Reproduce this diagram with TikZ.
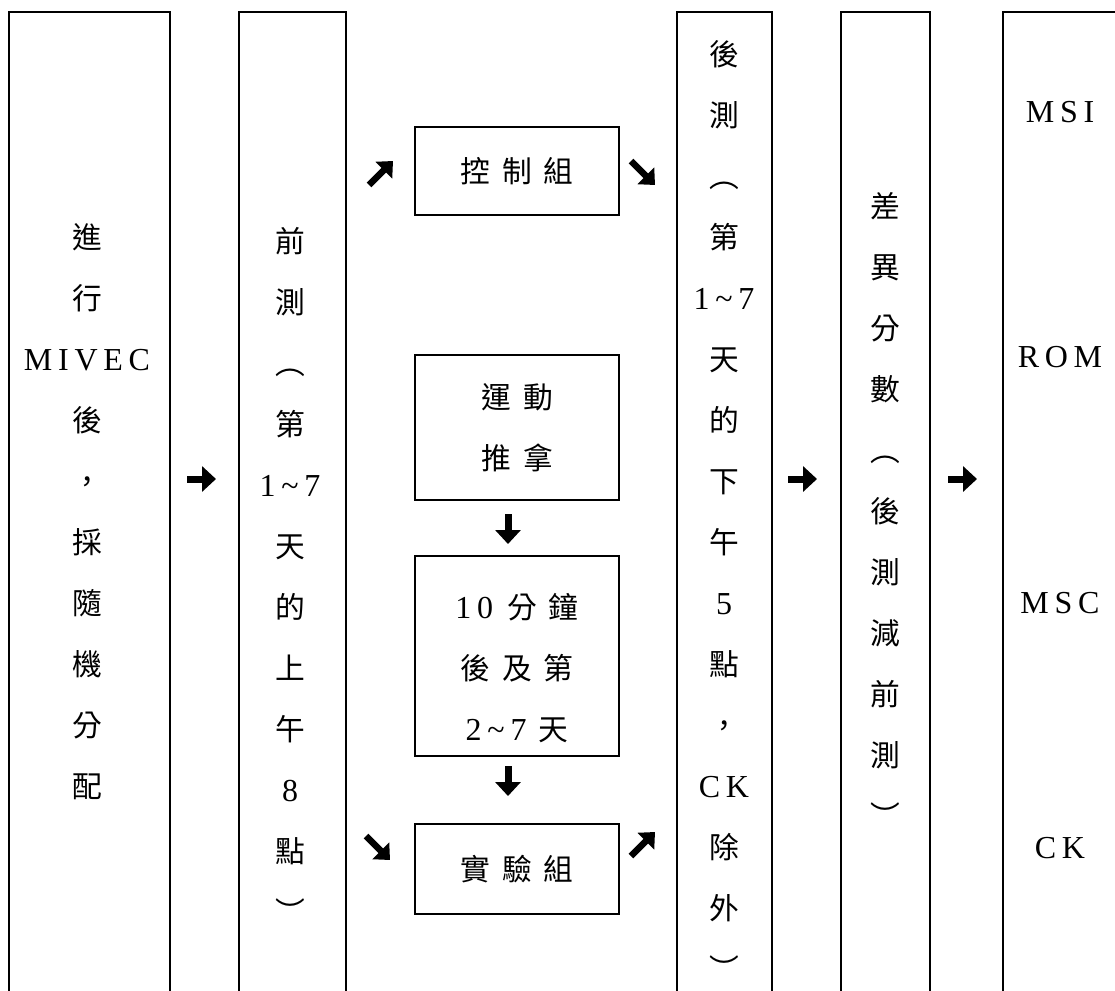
\documentclass[tikz,border=0pt]{standalone}
\usepackage{fontspec}
\setmainfont{Noto Sans CJK TC}[Scale=0.93]
\newfontfamily\lat{Liberation Serif}[LetterSpace=18]
\usetikzlibrary{arrows.meta}
\newcommand{\gp}{\hspace{12pt}}
\newcommand{\tld}{\textasciitilde}
\begin{document}
\begin{tikzpicture}[x=1pt,y=-1pt,
  tallbox/.style={draw, line width=1.5pt, minimum height=998pt, inner sep=0pt},
  midbox/.style={draw, line width=1.2pt, minimum width=204pt, inner sep=0pt},
  vtext/.style={align=center, inner sep=0pt, font=\fontsize{32}{61}\selectfont},
  fat/.style={line width=7pt, -{Triangle[length=14pt,width=25pt]}},
  fatd/.style={line width=6.5pt, -{Triangle[length=13pt,width=23pt]}}]
\useasboundingbox (0,0) rectangle (1115,990);
\clip (0,0) rectangle (1115,990);
% tall boxes
\node[tallbox, minimum width=161pt] (b1) at (89.5,511) {};
\node[tallbox, minimum width=107pt] (b2) at (292.5,511) {};
\node[tallbox, minimum width=95pt] (b3) at (724.5,511) {};
\node[tallbox, minimum width=89pt] (b4) at (885.5,511) {};
\node[tallbox, minimum width=122pt] (b5) at (1064,511) {};
% texts in tall boxes
\node[vtext] (t1) at (87,512) {進\\行\\{\lat MIVEC}\\後\\，\\採\\隨\\機\\分\\配};
\node[vtext] (t2) at (290,575) {前\\測\\︵\\第\\{\lat 1\tld{}7}\\天\\的\\上\\午\\{\lat 8}\\點\\︶};
\node[vtext] (t3) at (724,510) {後\\測\\︵\\第\\{\lat 1\tld{}7}\\天\\的\\下\\午\\{\lat 5}\\點\\，\\{\lat CK}\\除\\外\\︶};
\node[vtext] (t4) at (885,510) {差\\異\\分\\數\\︵\\後\\測\\減\\前\\測\\︶};
\node[align=center, inner sep=0pt, font=\fontsize{32}{245.3}\selectfont] (t5) at (1060,480)
  {{\lat MSI}\\{\lat ROM}\\{\lat MSC}\\{\lat CK}};
% middle boxes
\node[midbox, minimum height=88pt, vtext] (c1) at (517,171) {控\gp{}制\gp{}組};
\node[midbox, minimum height=145pt, vtext] (c2) at (517,427.5) {運\gp{}動\\推\gp{}拿};
\node[midbox, minimum height=200pt] (c3) at (517,656) {};
\node[vtext] (c3t) at (517,668) {{\lat 10}\hspace{14pt}分\gp{}鐘\\後\gp{}及\gp{}第\\{\lat 2\tld{}7}\hspace{12pt}天};
\node[midbox, minimum height=90pt, vtext] (c4) at (517,869) {實\gp{}驗\gp{}組};
% arrow end points
\coordinate (r1a) at (187,479); \coordinate (r1b) at (216,479);
\coordinate (r2a) at (788,479); \coordinate (r2b) at (817,479);
\coordinate (r3a) at (948,479); \coordinate (r3b) at (977,479);
\coordinate (u1a) at (369,185); \coordinate (u1b) at (393,161);
\coordinate (d1a) at (631,161); \coordinate (d1b) at (655,185);
\coordinate (d2a) at (366,836); \coordinate (d2b) at (390,860);
\coordinate (u2a) at (631,856); \coordinate (u2b) at (655,832);
\coordinate (v1a) at (508,514); \coordinate (v1b) at (508,544);
\coordinate (v2a) at (508,766); \coordinate (v2b) at (508,796);
% arrows
\draw[fat] (r1a) -- (r1b);
\draw[fat] (r2a) -- (r2b);
\draw[fat] (r3a) -- (r3b);
\draw[fatd] (u1a) -- (u1b);
\draw[fatd] (d1a) -- (d1b);
\draw[fatd] (d2a) -- (d2b);
\draw[fatd] (u2a) -- (u2b);
\draw[fat] (v1a) -- (v1b);
\draw[fat] (v2a) -- (v2b);
\end{tikzpicture}
\end{document}
